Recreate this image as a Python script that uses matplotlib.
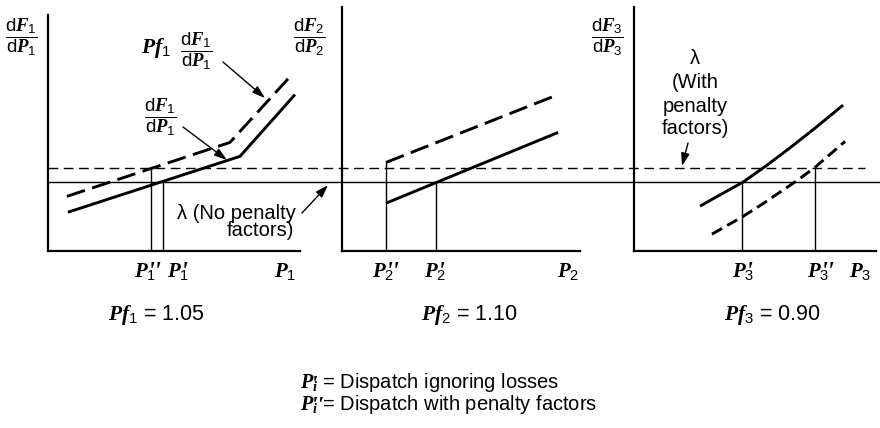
import matplotlib
matplotlib.use("Agg")
import matplotlib.pyplot as plt
from matplotlib.transforms import blended_transform_factory

# ── fonts: sans for words, bold-italic serif for P / F symbols ─────────────
plt.rcParams.update({
    "font.family": ["Liberation Sans", "DejaVu Sans"],
    "mathtext.fontset": "custom",
    "mathtext.rm": "Liberation Sans",
    "mathtext.it": "Liberation Serif:italic:bold",
    "mathtext.bf": "Liberation Serif:bold",
})

W, H = 880, 428
AX_TOP, AX_BOTTOM = 7, 251          # pixel rows of the panel frames

# ── data (panel units, 0..10 on both axes) ─────────────────────────────────
lam_no_penalty = 2.84
lam_penalty = 3.39

# unit 1, Pf1 = 1.05
p1_solid_x = [0.79, 7.62, 9.80]
p1_solid_y = [1.59, 3.88, 6.41]
p1_dash_x = [0.75, 7.22, 9.60]
p1_dash_y = [2.24, 4.45, 7.14]
p1_with_pf, p1_no_pf = 4.09, 4.56

# unit 2, Pf2 = 1.10
p2_solid_x = [1.85, 9.08]
p2_solid_y = [1.96, 4.86]
p2_dash_x = [1.85, 9.08]
p2_dash_y = [3.63, 6.41]
p2_with_pf, p2_no_pf = 1.85, 3.95

# unit 3, Pf3 = 0.90
p3_solid_x = [2.73, 3.50, 4.50, 5.50, 6.50, 7.50, 8.64]
p3_solid_y = [1.84, 2.27, 2.82, 3.52, 4.27, 5.05, 5.98]
p3_dash_x = [3.22, 4.46, 5.30, 6.03, 6.80, 7.48, 8.72]
p3_dash_y = [0.69, 1.39, 1.92, 2.41, 2.93, 3.43, 4.49]
p3_with_pf, p3_no_pf = 7.48, 4.46

FS = 14.5
SERIF_BI = dict(family=["Liberation Serif", "DejaVu Serif"],
                weight="bold", style="italic")

fig = plt.figure(figsize=(8.8, 4.28), dpi=100)


def px(x, y):
    return x / W, 1 - y / H


def panel(x_left, x_right):
    ax = fig.add_axes([x_left / W, (H - AX_BOTTOM) / H,
                       (x_right - x_left) / W, (AX_BOTTOM - AX_TOP) / H])
    ax.set_xlim(0, 10)
    ax.set_ylim(0, 10)
    for s in ("top", "right"):
        ax.spines[s].set_visible(False)
    for s in ("left", "bottom"):
        ax.spines[s].set_linewidth(1.6)
    ax.set_xticks([])
    ax.set_yticks([])
    ax.patch.set_alpha(0)
    return ax


def curves(ax, sx, sy, dx, dy, dash):
    ax.plot(sx, sy, color="k", lw=2.1, solid_capstyle="butt")
    ax.plot(dx, dy, color="k", lw=2.1, ls=(0, dash), dash_capstyle="butt")


ax1 = panel(48, 300)
ax2 = panel(342, 580)
ax3 = panel(634, 876)
ax1.spines["left"].set_bounds(0, 9.67)

curves(ax1, p1_solid_x, p1_solid_y, p1_dash_x, p1_dash_y, (6.5, 2.6))
curves(ax2, p2_solid_x, p2_solid_y, p2_dash_x, p2_dash_y, (6.5, 2.6))
curves(ax3, p3_solid_x, p3_solid_y, p3_dash_x, p3_dash_y, (4.0, 2.0))

# dispatch drop lines
ax1.vlines(p1_with_pf, 0, lam_penalty, color="k", lw=1.0)
ax1.vlines(p1_no_pf, 0, lam_no_penalty, color="k", lw=1.0)
ax2.vlines(p2_with_pf, 0, p2_dash_y[0], color="k", lw=1.0)
ax2.vlines(p2_no_pf, 0, lam_no_penalty, color="k", lw=1.0)
ax3.vlines(p3_with_pf, 0, lam_penalty, color="k", lw=1.0)
ax3.vlines(p3_no_pf, 0, lam_no_penalty, color="k", lw=1.0)

# lambda lines run across all three panels
trans = blended_transform_factory(fig.transFigure, ax1.transData)
ax1.plot([48 / W, 880 / W], [lam_no_penalty] * 2, transform=trans,
         clip_on=False, color="k", lw=1.0)
ax1.plot([48 / W, 865 / W], [lam_penalty] * 2, transform=trans,
         clip_on=False, color="k", lw=1.0, ls=(0, (7, 4)))


# ── labels ────────────────────────────────────────────────────────────────
def label(x, y, s, size=FS, ha="center"):
    fig.text(*px(x, y), s, ha=ha, va="center", fontsize=size)


def plabel(x, y, sub, primes="", size=FS, ha="center", tail=""):
    # P with subscript, primes stacked above the subscript
    fig.text(*px(x, y), rf"$P_{{{sub}}}${tail}", ha=ha, va="center", fontsize=size)
    if primes:
        off = 3 if ha == "center" else 11
        fig.text(*px(x + off, y + 8), primes, ha="left", va="baseline",
                 fontsize=size * 1.2, **SERIF_BI)


frac = r"\dfrac{{\mathrm{{d}}F_{0}}}{{\mathrm{{d}}P_{0}}}"
for i, x in zip((1, 2, 3), (21, 309, 607)):
    label(x, 37, "$" + frac.format(i) + "$", 13.5)

label(156, 48, r"$Pf_1$", 15.5)
label(196, 51, "$" + frac.format(1) + "$", 13.5)
label(160, 117, "$" + frac.format(1) + "$", 13.5)
label(236, 213, "λ (No penalty")
label(260, 231, "factors)")
for y, s in zip((58, 83, 106, 128), ("λ", "(With", "penalty", "factors)")):
    label(695, y, s)

ticks = [(145, 1, "''"), (178, 1, "'"), (285, 1, ""),
         (383, 2, "''"), (435, 2, "'"), (568, 2, ""),
         (743, 3, "'"), (818, 3, "''"), (860, 3, "")]
for x, sub, pr in ticks:
    plabel(x, 271, sub, pr, 15)

label(156, 315, r"$Pf_1$ = 1.05", 15.5)
label(469, 315, r"$Pf_2$ = 1.10", 15.5)
label(772, 315, r"$Pf_3$ = 0.90", 15.5)

plabel(300, 383, "i", "'", ha="left", tail=" = Dispatch ignoring losses")
plabel(300, 404, "i", "''", ha="left", tail=" = Dispatch with penalty factors")

arrows = [((223, 62), (265, 98)), ((183, 127), (227, 160)),
          ((302, 213), (328, 185)), ((688, 143), (682, 166))]
for start, end in arrows:
    ax1.annotate("", xy=px(*end), xytext=px(*start),
                 xycoords="figure fraction", textcoords="figure fraction",
                 annotation_clip=False,
                 arrowprops=dict(arrowstyle="-|>,head_length=0.55,head_width=0.18",
                                 color="k", lw=1.0, shrinkA=0, shrinkB=0,
                                 mutation_scale=14))

fig.savefig("out.png", dpi=100)
